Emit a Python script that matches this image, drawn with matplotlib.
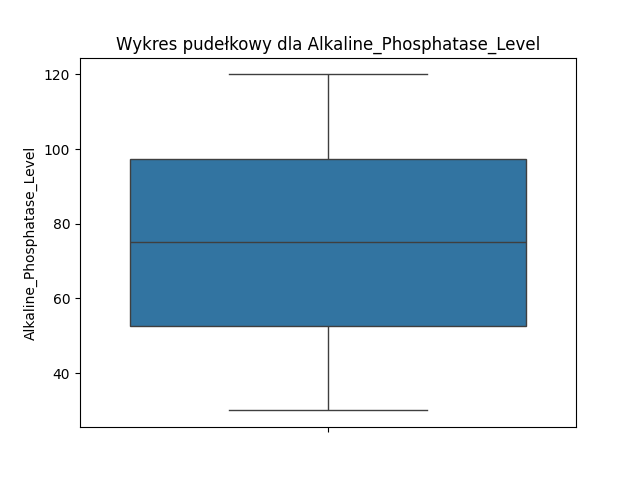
import matplotlib
matplotlib.use("Agg")
import matplotlib.pyplot as plt
import seaborn as sns
import pandas as pd

# values (min, Q1, median, Q3, max)
alp_level = [30, 52.6, 75, 97.4, 120]

df = pd.DataFrame({'Alkaline_Phosphatase_Level': alp_level})

fig, ax = plt.subplots(figsize=(6.4, 4.8), dpi=100)
sns.boxplot(y=df['Alkaline_Phosphatase_Level'], ax=ax)
ax.set_title('Wykres pudełkowy dla Alkaline_Phosphatase_Level')
ax.set_ylabel('Alkaline_Phosphatase_Level')

plt.savefig('out.png', format='png')
